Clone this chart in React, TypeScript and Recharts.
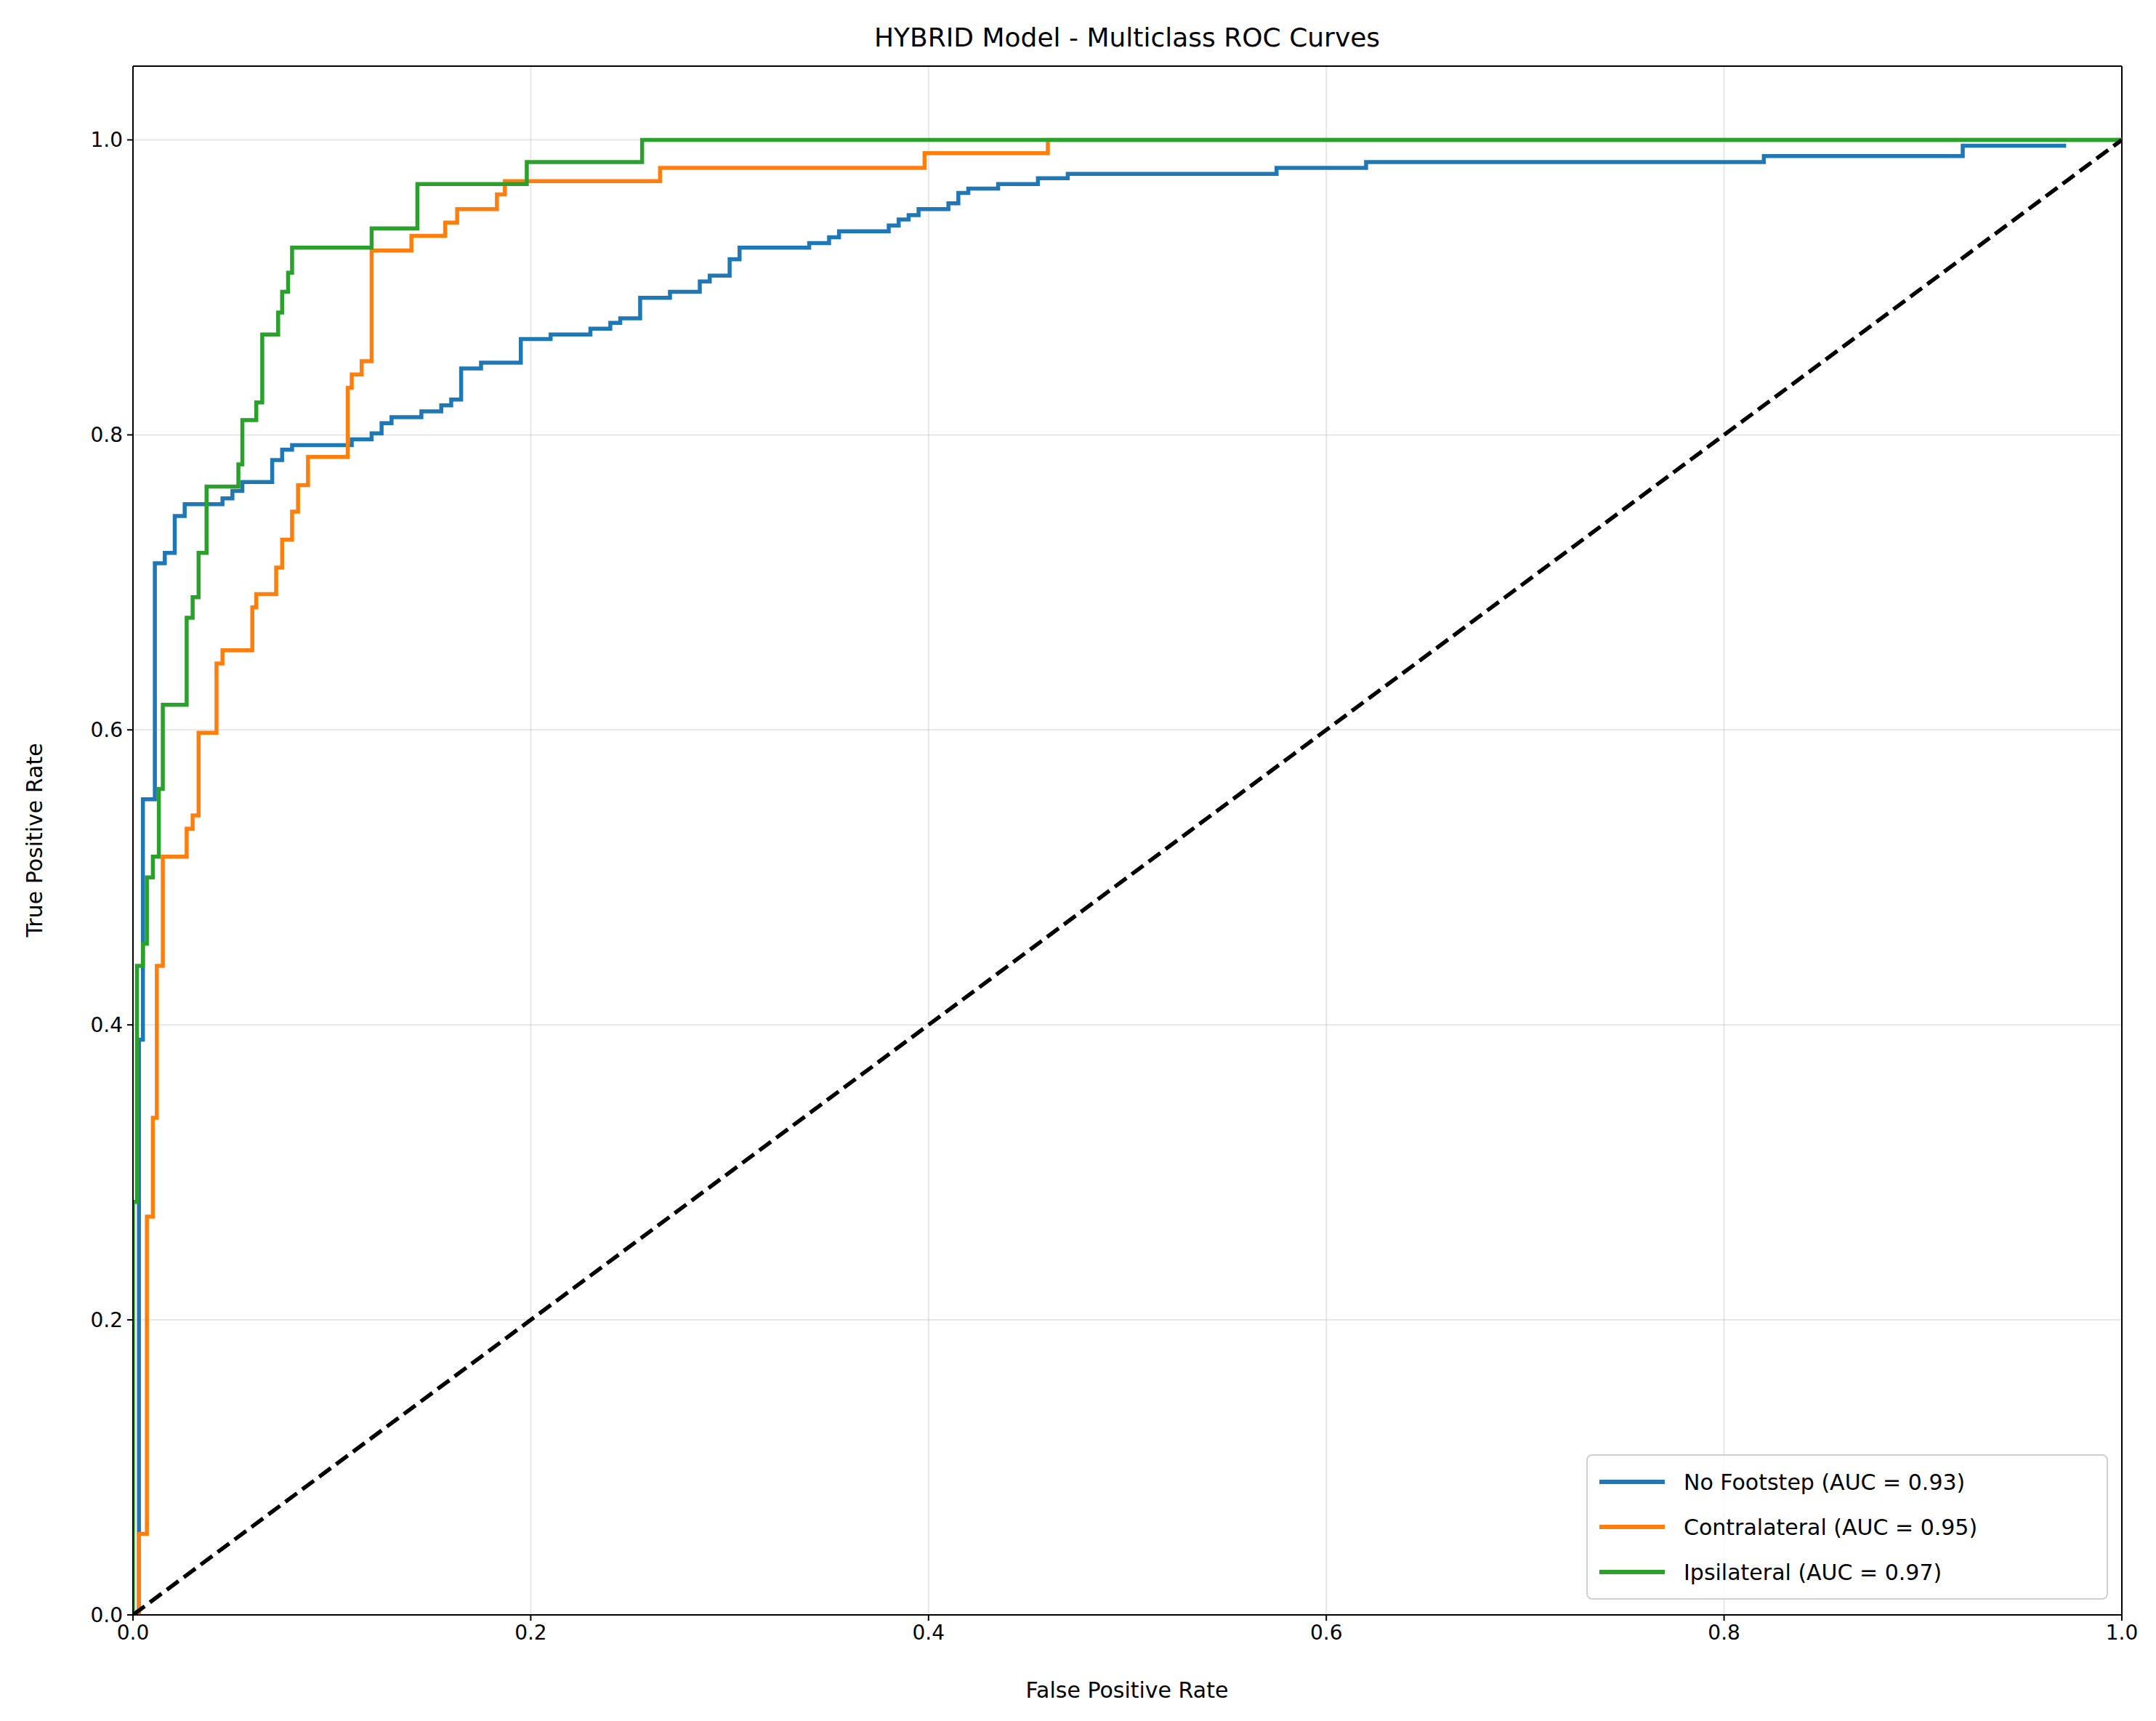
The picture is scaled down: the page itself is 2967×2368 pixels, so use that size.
import { LineChart, Line, XAxis, YAxis, CartesianGrid } from "recharts";

// ROC points: [fpr, tpr] where the curve jumps up to tpr at fpr (step after)
const noFootstep: [number, number][] = [
  [0, 0], [0.003, 0.39], [0.005, 0.553], [0.011, 0.713], [0.016, 0.72], [0.021, 0.745],
  [0.026, 0.753], [0.045, 0.757], [0.05, 0.762], [0.055, 0.768], [0.07, 0.783], [0.075, 0.79],
  [0.08, 0.793], [0.11, 0.797], [0.12, 0.801], [0.125, 0.808], [0.13, 0.812], [0.145, 0.816],
  [0.155, 0.82], [0.16, 0.824], [0.165, 0.845], [0.175, 0.849], [0.195, 0.865], [0.21, 0.868],
  [0.23, 0.872], [0.24, 0.876], [0.245, 0.879], [0.255, 0.893], [0.27, 0.897], [0.285, 0.904],
  [0.29, 0.908], [0.3, 0.919], [0.305, 0.927], [0.34, 0.93], [0.35, 0.934], [0.355, 0.938],
  [0.38, 0.942], [0.385, 0.946], [0.39, 0.949], [0.395, 0.953], [0.41, 0.957], [0.415, 0.964],
  [0.42, 0.967], [0.435, 0.97], [0.455, 0.974], [0.47, 0.977], [0.575, 0.981], [0.62, 0.985],
  [0.82, 0.989], [0.92, 0.996], [0.972, 0.996],
];
const contralateral: [number, number][] = [
  [0, 0], [0.003, 0.055], [0.007, 0.27], [0.01, 0.337], [0.012, 0.44], [0.015, 0.514],
  [0.027, 0.533], [0.03, 0.542], [0.033, 0.598], [0.042, 0.645], [0.045, 0.654], [0.06, 0.683],
  [0.062, 0.692], [0.072, 0.71], [0.075, 0.729], [0.08, 0.748], [0.083, 0.766], [0.088, 0.785],
  [0.108, 0.832], [0.11, 0.841], [0.115, 0.85], [0.12, 0.925], [0.14, 0.935], [0.157, 0.944],
  [0.163, 0.953], [0.183, 0.963], [0.187, 0.972], [0.265, 0.981], [0.398, 0.991], [0.46, 1.0],
  [1.0, 1.0],
];
const ipsilateral: [number, number][] = [
  [0, 0], [0, 0.28], [0.002, 0.44], [0.005, 0.455], [0.007, 0.5], [0.01, 0.514], [0.013, 0.56],
  [0.015, 0.617], [0.027, 0.676], [0.03, 0.69], [0.033, 0.72], [0.037, 0.765], [0.053, 0.78],
  [0.055, 0.81], [0.062, 0.822], [0.065, 0.868], [0.073, 0.883], [0.075, 0.897], [0.078, 0.91],
  [0.08, 0.927], [0.12, 0.94], [0.143, 0.97], [0.198, 0.985], [0.256, 1.0], [1.0, 1.0],
];
const diagonal: [number, number][] = [[0, 0], [1, 1]];

const series = [
  { name: "No Footstep (AUC = 0.93)", color: "#1f77b4", pts: noFootstep },
  { name: "Contralateral (AUC = 0.95)", color: "#ff7f0e", pts: contralateral },
  { name: "Ipsilateral (AUC = 0.97)", color: "#2ca02c", pts: ipsilateral },
];

const xTicks = [0, 0.2, 0.4, 0.6, 0.8, 1.0];
const yTicks = [0, 0.2, 0.4, 0.6, 0.8, 1.0];

const toRows = (pts: [number, number][]) => pts.map(([x, y]) => ({ x, y }));
const font = "DejaVu Sans";

export default function App() {
  return (
    <div style={{ position: "absolute", left: 0, top: 0, width: 2967, height: 2368, background: "#fff", fontFamily: font }}>
      <LineChart width={2967} height={2368} margin={{ top: 91, right: 47, bottom: 66, left: 103 }}>
        <CartesianGrid stroke="#b0b0b0" strokeOpacity={0.3} strokeWidth={2} />
        <XAxis
          type="number" dataKey="x" domain={[0, 1]} ticks={xTicks} allowDataOverflow height={80}
          tickFormatter={(v) => v.toFixed(1)} tick={{ fontSize: 28, fill: "#000", fontFamily: font }}
          stroke="#000" strokeWidth={2} tickSize={8} tickMargin={6}
        />
        <YAxis
          type="number" dataKey="y" domain={[0, 1.05]} ticks={yTicks} allowDataOverflow width={80}
          tickFormatter={(v) => v.toFixed(1)} tick={{ fontSize: 28, fill: "#000", fontFamily: font }}
          stroke="#000" strokeWidth={2} tickSize={8} tickMargin={6}
        />
        {series.map((s) => (
          <Line key={s.name} data={toRows(s.pts)} dataKey="y" type="stepAfter" stroke={s.color}
            strokeWidth={5.5} dot={false} isAnimationActive={false} />
        ))}
        <Line data={toRows(diagonal)} dataKey="y" type="linear" stroke="#000" strokeWidth={5.5}
          strokeDasharray="20 9" dot={false} isAnimationActive={false} />
        <line x1={183} x2={2920} y1={91} y2={91} stroke="#000" strokeWidth={2} />
        <line x1={2920} x2={2920} y1={91} y2={2222} stroke="#000" strokeWidth={2} />
        <text x={1551} y={64} textAnchor="middle" fontSize={36} fontFamily={font}>
          HYBRID Model - Multiclass ROC Curves
        </text>
        <text x={1551} y={2336} textAnchor="middle" fontSize={30} fontFamily={font}>
          False Positive Rate
        </text>
        <text x={58} y={1156} textAnchor="middle" fontSize={30} fontFamily={font} transform="rotate(-90 58 1156)">
          True Positive Rate
        </text>
      </LineChart>
      <div style={{ position: "absolute", left: 2183, top: 2001, width: 718, height: 200, border: "2px solid #d0d0d0", borderRadius: 8, background: "rgba(255,255,255,0.8)", boxSizing: "border-box" }}>
        {series.map((s, i) => (
          <div key={s.name} style={{ position: "absolute", left: 16, top: 16 + i * 62, height: 40, display: "flex", alignItems: "center" }}>
            <div style={{ width: 90, height: 5.5, background: s.color }} />
            <span style={{ marginLeft: 26, fontSize: 30, whiteSpace: "nowrap" }}>{s.name}</span>
          </div>
        ))}
      </div>
    </div>
  );
}
